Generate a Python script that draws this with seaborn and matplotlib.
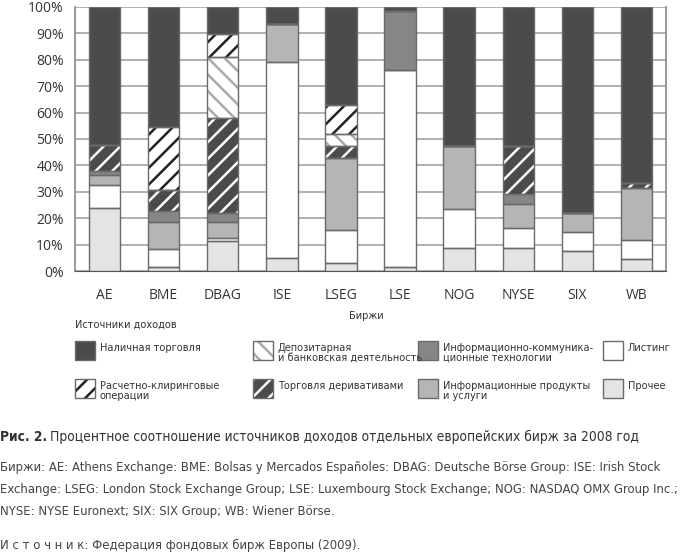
import numpy as np
import matplotlib
matplotlib.use("Agg")
import matplotlib.pyplot as plt
from matplotlib import font_manager as fm
from matplotlib.patches import Rectangle
import seaborn as sns

sns.set_style("white")
plt.rcParams['font.family'] = ['Open Sans', 'DejaVu Sans']
plt.rcParams['hatch.linewidth'] = 1.8

# exchanges on the x axis
exchanges = ['AE', 'BME', 'DBAG', 'ISE', 'LSEG', 'LSE', 'NOG', 'NYSE', 'SIX', 'WB']

# revenue shares, % (stacked from bottom to top)
other    = [24.0, 1.5, 11.3, 4.8, 2.9, 1.6, 8.6, 8.8, 7.7, 4.5]
listing  = [8.5, 6.9, 1.3, 74.2, 12.5, 74.6, 14.9, 7.4, 6.9, 7.4]
info     = [4.0, 10.1, 5.9, 14.7, 27.4, 0.0, 23.9, 9.3, 7.2, 19.4]
ict      = [1.5, 4.4, 3.4, 0.0, 0.0, 22.2, 0.0, 3.5, 0.0, 0.0]
deriv    = [9.8, 7.8, 36.1, 0.0, 4.4, 0.0, 0.0, 18.5, 0.0, 1.9]
depo     = [0.0, 0.0, 22.9, 0.0, 4.7, 0.0, 0.0, 0.0, 0.0, 0.0]
clearing = [0.0, 23.9, 8.9, 0.0, 11.1, 0.0, 0.0, 0.0, 0.0, 0.0]
cash     = [52.2, 45.4, 10.2, 6.3, 37.0, 1.6, 52.6, 52.5, 78.2, 66.8]

series_names = ['Прочее', 'Листинг', 'Информационные продукты\nи услуги',
                'Информационно-коммуника-\nционные технологии',
                'Торговля деривативами', 'Депозитарная\nи банковская деятельность',
                'Расчетно-клиринговые\nоперации', 'Наличная торговля']
series_vals = [other, listing, info, ict, deriv, depo, clearing, cash]

# fill colour, hatch, hatch colour
styles = [
    ('#e3e4e5', None, None),
    ('#ffffff', None, None),
    ('#b4b5b7', None, None),
    ('#858688', None, None),
    ('#4b4b4d', '//', '#ffffff'),
    ('#ffffff', '\\\\', '#a8a9ab'),
    ('#ffffff', '//', '#222222'),
    ('#4b4b4d', None, None),
]
edge = '#6a6a6a'

# pick the narrowest sans family that is installed
entries = fm.fontManager.ttflist
names = {f.name for f in entries}
narrow_family, narrow_stretch = ['Noto Sans CJK JP', 'DejaVu Sans'], 'normal'
if 'Liberation Sans Narrow' in names:
    narrow_family = ['Liberation Sans Narrow', 'DejaVu Sans']
elif any(f.name == 'DejaVu Sans' and f.stretch == 'condensed' for f in entries):
    narrow_family, narrow_stretch = ['DejaVu Sans'], 'condensed'
elif 'Roboto Condensed' in names:
    narrow_family = ['Roboto Condensed', 'DejaVu Sans']

fig = plt.figure(figsize=(7, 5.54), dpi=100)
ax = fig.add_axes([75 / 700, 1 - 271 / 554, 591 / 700, 264 / 554])

bottom = np.zeros(len(exchanges))
for vals, (fc, hatch, hc) in zip(series_vals, styles):
    vals = np.array(vals)
    if hatch:
        sns.barplot(x=exchanges, y=vals, bottom=bottom, color=fc, width=0.53,
                    hatch=hatch, edgecolor=hc, linewidth=0, errorbar=None,
                    ax=ax, zorder=3)
    else:
        sns.barplot(x=exchanges, y=vals, bottom=bottom, color=fc, width=0.53,
                    linewidth=0, errorbar=None, ax=ax, zorder=3)
    # outline
    sns.barplot(x=exchanges, y=vals, bottom=bottom, fill=False, color=edge,
                width=0.53, linewidth=1.0, errorbar=None, ax=ax, zorder=4)
    bottom += vals

ax.set_ylim(0, 100)
ax.set_xlim(-0.5, len(exchanges) - 0.5)
ax.set_yticks(np.arange(0, 101, 10))
ax.set_yticklabels([f'{v}%' for v in range(0, 101, 10)], fontsize=10, color='#333333')
ax.set_xticks(range(len(exchanges)))
ax.set_xticklabels(exchanges, fontsize=10, color='#333333')
ax.set_xticks(np.arange(-0.5, len(exchanges)), minor=True)
ax.tick_params(axis='x', which='major', length=0, pad=12)
ax.tick_params(axis='x', which='minor', length=6, width=1, color='#555555', direction='out')
ax.tick_params(axis='y', length=4, width=1, color='#888888', pad=4)
ax.yaxis.grid(True, color='#b0b0b0', linewidth=1.4, zorder=0)
ax.set_axisbelow(True)
for side in ['left', 'right']:
    ax.spines[side].set_color('#888888')
    ax.spines[side].set_linewidth(1.2)
ax.spines['top'].set_visible(False)
ax.spines['bottom'].set_color('#555555')
ax.set_xlabel('')
ax.set_ylabel('')

renderer = fig.canvas.get_renderer()


def fit_size(text, width_px, base=10, **kw):
    t = fig.text(0, 0, text, family=narrow_family, stretch=narrow_stretch,
                 fontsize=base, **kw)
    w = t.get_window_extent(renderer=renderer).width
    t.remove()
    return base * width_px / w


leg_fs = fit_size('Информационно-коммуника-', 150)
cap_fs = fit_size('Биржи: AE: Athens Exchange: BME: Bolsas y Mercados Españoles: '
                  'DBAG: Deutsche Börse Group: ISE: Irish Stock', 662)
title_fs = fit_size('Рис. 2. Процентное соотношение источников доходов отдельных '
                    'европейских бирж за 2008 год', 640)

txt = dict(family=narrow_family, stretch=narrow_stretch, color='#333333')

fig.text(366 / 700, 1 - 316 / 554, 'Биржи', fontsize=leg_fs, ha='center',
         va='center', **txt)

# legend
fig.text(75 / 700, 1 - 325 / 554, 'Источники доходов', fontsize=leg_fs,
         ha='left', va='center', **txt)
leg_order = [7, 5, 3, 1, 6, 4, 2, 0]
col_x = [75, 253, 418, 603]
row_y = [341, 379]
for k, idx in enumerate(leg_order):
    px = col_x[k % 4]
    py = row_y[k // 4]
    fc, hatch, hc = styles[idx]
    fig.add_artist(Rectangle((px / 700, 1 - (py + 19) / 554), 20 / 700, 19 / 554,
                             transform=fig.transFigure, facecolor=fc,
                             edgecolor=hc if hatch else edge, hatch=hatch,
                             linewidth=0 if hatch else 1.0))
    if hatch:
        fig.add_artist(Rectangle((px / 700, 1 - (py + 19) / 554), 20 / 700, 19 / 554,
                                 transform=fig.transFigure, facecolor='none',
                                 edgecolor=edge, linewidth=1.0))
    fig.text((px + 25) / 700, 1 - (py + 2) / 554, series_names[idx],
             fontsize=leg_fs, ha='left', va='top', linespacing=0.95, **txt)

# caption
t1 = fig.text(0.0, 1 - 437 / 554, 'Рис. 2.', fontsize=title_fs, weight='bold',
              ha='left', va='center', **txt)
w = t1.get_window_extent(renderer=renderer).width
fig.text((w + 3) / 700, 1 - 437 / 554,
         'Процентное соотношение источников доходов отдельных европейских бирж за 2008 год',
         fontsize=title_fs, ha='left', va='center', **txt)

caption_lines = [
    'Биржи: AE: Athens Exchange: BME: Bolsas y Mercados Españoles: DBAG: Deutsche Börse Group: ISE: Irish Stock',
    'Exchange: LSEG: London Stock Exchange Group; LSE: Luxembourg Stock Exchange; NOG: NASDAQ OMX Group Inc.;',
    'NYSE: NYSE Euronext; SIX: SIX Group; WB: Wiener Börse.',
]
cap = dict(txt, color='#444444')
for i, line in enumerate(caption_lines):
    fig.text(0.0, 1 - (468 + 22 * i) / 554, line, fontsize=cap_fs,
             ha='left', va='center', **cap)
fig.text(0.0, 1 - 545 / 554, 'И с т о ч н и к: Федерация фондовых бирж Европы (2009).',
         fontsize=cap_fs, ha='left', va='center', **cap)

fig.savefig('out.png', dpi=100)
